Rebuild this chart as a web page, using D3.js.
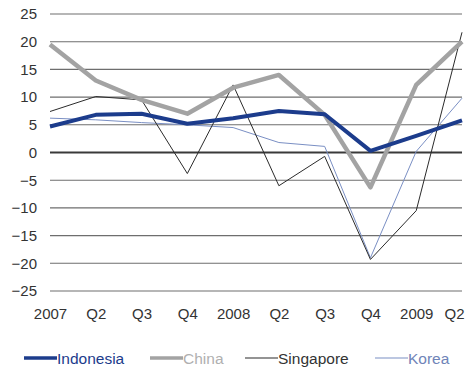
<!DOCTYPE html>
<html>
<head>
<meta charset="utf-8">
<script src="https://cdn.jsdelivr.net/npm/d3@7"></script>
<style>
  html, body { margin: 0; padding: 0; background: #fff; }
  svg { display: block; font-family: "Liberation Sans", Arial, sans-serif; }
</style>
</head>
<body>
<svg id="chart" width="471" height="368"></svg>
<script>
// Quarterly categories
const quarters = ["2007", "Q2", "Q3", "Q4", "2008", "Q2 ", "Q3 ", "Q4 ", "2009", "Q2  "];
const quarterLabels = ["2007", "Q2", "Q3", "Q4", "2008", "Q2", "Q3", "Q4", "2009", "Q2"];

// Growth series (%)
const indonesia = [4.7, 6.8, 7.0, 5.2, 6.2, 7.5, 6.9, 0.3, 3.0, 5.8];
const china     = [19.5, 13.0, 9.5, 7.0, 11.7, 14.0, 6.8, -6.3, 12.2, 20.0];
const singapore = [7.4, 10.1, 9.5, -3.8, 12.2, -6.0, -0.7, -19.3, -10.5, 21.7];
const korea     = [6.2, 5.9, 5.4, 5.0, 4.5, 1.8, 1.1, -19.0, 0.2, 9.8];

const yTicks = [25, 20, 15, 10, 5, 0, -5, -10, -15, -20, -25];

const seriesNames = ["Indonesia", "China", "Singapore", "Korea"];
const seriesValues = [indonesia, china, singapore, korea];
const seriesStyle = {
  Indonesia: { color: "#1c3c8c", width: 4, text: "#1c3c8c" },
  China:     { color: "#a3a3a3", width: 4.5, text: "#b0b0b0" },
  Singapore: { color: "#2b2b2b", width: 1, text: "#333333" },
  Korea:     { color: "#7a8fc4", width: 1, text: "#6f84b8" }
};

const svg = d3.select("#chart");
const plotLeft = 50, plotRight = 462, plotTop = 14, plotBottom = 291;

const x = d3.scalePoint().domain(quarters).range([plotLeft, plotRight]);
const y = d3.scaleLinear().domain([-25, 25]).range([plotBottom, plotTop]);

// Horizontal gridlines
svg.append("g").selectAll("line").data(yTicks).join("line")
  .attr("x1", plotLeft).attr("x2", plotRight)
  .attr("y1", d => y(d)).attr("y2", d => y(d))
  .attr("stroke", d => d === 0 ? "#3a3a3a" : "#6e6e6e")
  .attr("stroke-width", d => d === 0 ? 2.2 : 1.1);

// Y axis labels
const yAxis = d3.axisLeft(y).tickValues(yTicks).tickSize(0).tickPadding(0);
const gy = svg.append("g").attr("transform", `translate(37,0)`).call(yAxis);
gy.select(".domain").remove();
gy.selectAll("text").attr("font-size", 15).attr("fill", "#333")
  .attr("font-family", "Liberation Sans, Arial, sans-serif");

// X axis labels
const xAxis = d3.axisBottom(x).tickSize(0).tickPadding(0)
  .tickFormat((d, i) => quarterLabels[i]);
const gx = svg.append("g").attr("transform", `translate(0,308)`).call(xAxis);
gx.select(".domain").remove();
gx.selectAll("text").attr("font-size", 15).attr("fill", "#333")
  .attr("font-family", "Liberation Sans, Arial, sans-serif");
gx.selectAll("text").filter((d, i) => i === quarters.length - 1)
  .attr("text-anchor", "end").attr("dx", 2);

// Series lines
const line = d3.line()
  .x((d, i) => x(quarters[i]))
  .y(d => y(d));

const drawOrder = ["Korea", "Singapore", "China", "Indonesia"];
svg.append("g").selectAll("path").data(drawOrder).join("path")
  .attr("d", name => line(seriesValues[seriesNames.indexOf(name)]))
  .attr("fill", "none")
  .attr("stroke", name => seriesStyle[name].color)
  .attr("stroke-width", name => seriesStyle[name].width)
  .attr("stroke-linejoin", "round");

// Legend
const legendX = [24, 150, 245, 375];
const legend = svg.append("g").attr("transform", "translate(0,358)");
seriesNames.forEach((name, i) => {
  const st = seriesStyle[name];
  legend.append("line")
    .attr("x1", legendX[i]).attr("x2", legendX[i] + 33)
    .attr("y1", 0).attr("y2", 0)
    .attr("stroke", st.color)
    .attr("stroke-width", st.width > 2 ? 3.5 : 1.2);
  legend.append("text")
    .attr("x", legendX[i] + 33).attr("y", 5.5)
    .attr("font-size", 15.5)
    .attr("fill", st.text)
    .text(name);
});
</script>
</body>
</html>
